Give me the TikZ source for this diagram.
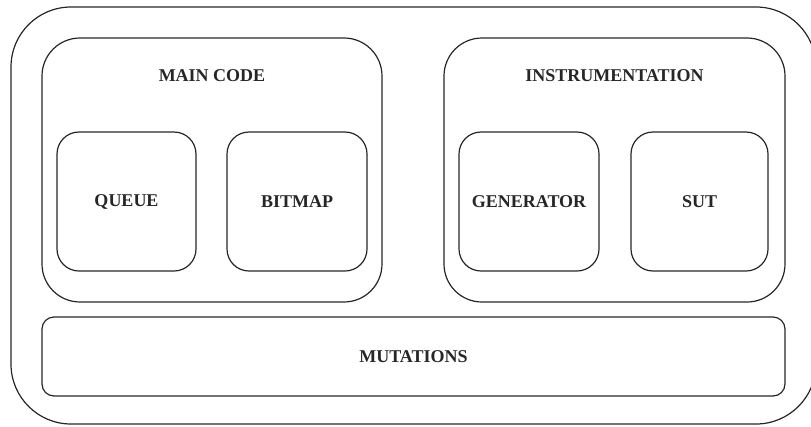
\documentclass[tikz,border=0pt]{standalone}
\usepackage{fontspec}
\setmainfont{Liberation Serif}
\begin{document}
\begin{tikzpicture}[x=1pt,y=-1pt,
  box/.style={draw=black!85,line width=1.2pt,rectangle,inner sep=0pt,outer sep=0pt},
  lbl/.style={font=\fontsize{18}{20}\selectfont\bfseries,text=black!85,inner sep=0pt}]
\useasboundingbox (0,0) rectangle (811,426);
\begin{scope}
\clip (0,0) rectangle (811,426);
\node[box,rounded corners=60pt,minimum width=805pt,minimum height=417pt] (outer) at (413.5,215.5) {};
\end{scope}
\node[box,rounded corners=38pt,minimum width=340pt,minimum height=264pt] (main) at (212,170) {};
\node[lbl] (mainlbl) at (212,76) {MAIN CODE};
\node[box,rounded corners=38pt,minimum width=341pt,minimum height=264pt] (instr) at (614.5,170) {};
\node[lbl] (instrlbl) at (614.5,76) {INSTRUMENTATION};
\node[box,rounded corners=22pt,minimum width=139pt,minimum height=139pt] (queue) at (126.5,201.5) {};
\node[lbl] at (queue.center) {QUEUE};
\node[box,rounded corners=22pt,minimum width=140pt,minimum height=139pt] (bitmap) at (297,201.5) {};
\node[lbl] at (bitmap.center) {BITMAP};
\node[box,rounded corners=22pt,minimum width=140pt,minimum height=139pt] (gen) at (529,201.5) {};
\node[lbl] at (gen.center) {GENERATOR};
\node[box,rounded corners=22pt,minimum width=137pt,minimum height=139pt] (sut) at (699.5,201.5) {};
\node[lbl] at (sut.center) {SUT};
\node[box,rounded corners=12pt,minimum width=743pt,minimum height=79pt] (mut) at (413.5,356.5) {};
\node[lbl] at (mut.center) {MUTATIONS};
\end{tikzpicture}
\end{document}
